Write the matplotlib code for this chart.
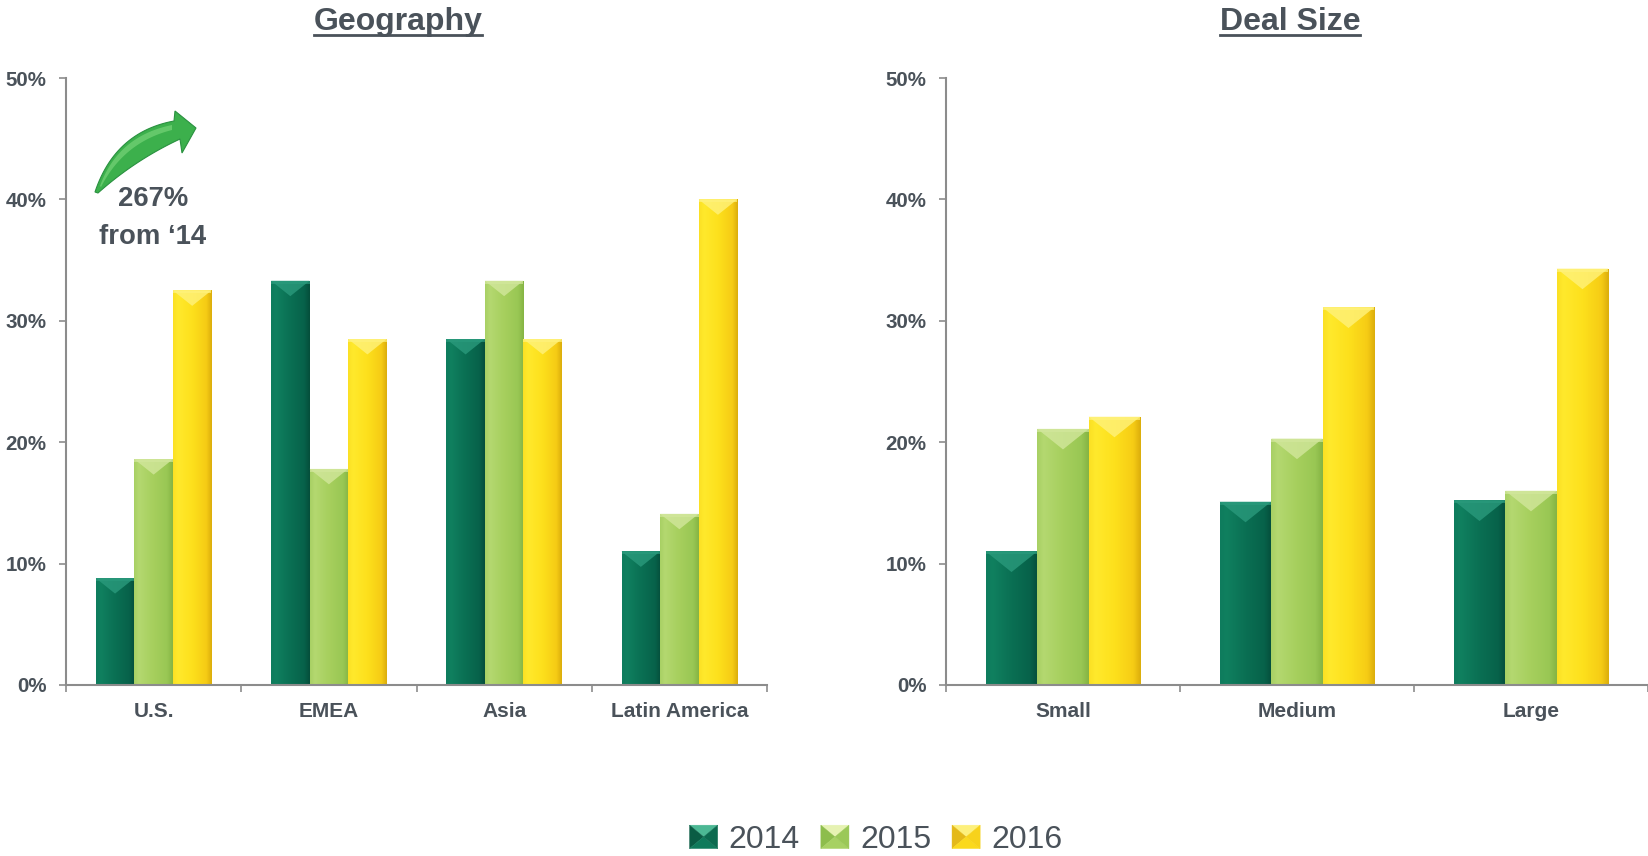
import numpy as np
import matplotlib
matplotlib.use("Agg")
import matplotlib.pyplot as plt
from matplotlib.patches import Polygon, Rectangle
from matplotlib.lines import Line2D
from matplotlib.legend_handler import HandlerBase
from matplotlib.ticker import PercentFormatter, FixedLocator
from matplotlib.colors import LinearSegmentedColormap

plt.rcParams['font.family'] = ['Liberation Sans', 'DejaVu Sans']

# ---- data -------------------------------------------------------------
years = ["2014", "2015", "2016"]

geo_categories = ["U.S.", "EMEA", "Asia", "Latin America"]
geo_2014 = [0.088, 0.333, 0.285, 0.110]
geo_2015 = [0.186, 0.178, 0.333, 0.141]
geo_2016 = [0.325, 0.285, 0.285, 0.400]

size_categories = ["Small", "Medium", "Large"]
size_2014 = [0.110, 0.151, 0.152]
size_2015 = [0.211, 0.203, 0.160]
size_2016 = [0.221, 0.311, 0.343]

y_ticks = [0.0, 0.1, 0.2, 0.3, 0.4, 0.5]
growth_note = "267%\nfrom \u201814"

# ---- styling ----------------------------------------------------------
TEXT = "#4a525a"
AXIS = "#8c8c8c"
W_PX, H_PX = 1648, 856

# horizontal shading across each bar (left highlight -> darker right edge)
shades = {
    "2014": ["#0e7c5d", "#10805f", "#0a6f53", "#07624a", "#054e3b"],
    "2015": ["#a8d064", "#b4d870", "#a6cf5d", "#99c754", "#85b444"],
    "2016": ["#fbe024", "#ffe92c", "#fde01c", "#f6cc15", "#dcae0c"],
}
bevel_top = {"2014": "#2a9a7c", "2015": "#d2e79c", "2016": "#fff27c"}
envelope = {  # top, left, bottom, right faces of the legend key
    "2014": ["#4cb894", "#0a5c44", "#0f7a5b", "#0c6a4f"],
    "2015": ["#e6f2b2", "#8dbd4c", "#a7d163", "#9bc858"],
    "2016": ["#fdf07c", "#e4b919", "#fbd91d", "#f7d21b"],
}


def fig_xy(px, py):
    """pixel position measured from the top-left corner -> figure fraction"""
    return px / W_PX, 1.0 - py / H_PX


fig = plt.figure(figsize=(W_PX / 100, H_PX / 100), dpi=100)
fig.patch.set_facecolor("white")

ax_geo = fig.add_axes([66 / W_PX, 171 / H_PX, (767 - 66) / W_PX, (685 - 78) / H_PX])
ax_size = fig.add_axes([946 / W_PX, 171 / H_PX, (1648 - 946) / W_PX, (685 - 78) / H_PX])


def shaded_bar(ax, rect, year):
    x, w, h = rect.get_x(), rect.get_width(), rect.get_height()
    cmap = LinearSegmentedColormap.from_list(
        "s" + year, list(zip([0.0, 0.12, 0.5, 0.86, 1.0], shades[year])))
    grad = np.linspace(0, 1, 64).reshape(1, -1)
    im = ax.imshow(grad, cmap=cmap, extent=(x, x + w, 0, h), aspect="auto",
                   interpolation="bicubic", zorder=2)
    im.set_clip_path(rect)
    # bevelled top face: a light wedge pointing down
    (px0, py_top), (px1, _) = ax.transData.transform([(x, h), (x + w, h)])
    depth = 0.40 * (px1 - px0)
    _, apex_y = ax.transData.inverted().transform((0, py_top - depth))
    tri = Polygon([(x, h), (x + w, h), (x + w * 0.5, apex_y)], closed=True,
                  facecolor=bevel_top[year], edgecolor="none", alpha=0.8, zorder=3)
    ax.add_patch(tri)
    _, strip_y = ax.transData.inverted().transform((0, py_top - 3))
    ax.add_patch(Rectangle((x, strip_y), w, h - strip_y, facecolor=bevel_top[year],
                           edgecolor="none", alpha=0.7, zorder=3))


def draw_panel(ax, categories, series):
    n = len(categories)
    xs = np.arange(n)
    bw = 0.22
    ax.set_xlim(-0.5, n - 0.5)
    ax.set_ylim(0, 0.5)
    for i, (year, vals) in enumerate(zip(years, series)):
        bars = ax.bar(xs + (i - 1) * bw, vals, width=bw, color="none",
                      edgecolor="none", zorder=2)
        for rect in bars:
            shaded_bar(ax, rect, year)
    for side in ("top", "right"):
        ax.spines[side].set_visible(False)
    for side in ("left", "bottom"):
        ax.spines[side].set_color(AXIS)
        ax.spines[side].set_linewidth(1.5)
    ax.yaxis.set_major_locator(FixedLocator(y_ticks))
    ax.yaxis.set_major_formatter(PercentFormatter(1.0, decimals=0))
    ax.tick_params(axis="y", length=5, width=1.2, color=AXIS, pad=9,
                   labelsize=14.8, labelcolor=TEXT)
    for lab in ax.get_yticklabels():
        lab.set_fontweight("bold")
    ax.xaxis.set_major_locator(FixedLocator(np.arange(n + 1) - 0.5))
    ax.xaxis.set_major_formatter(plt.NullFormatter())
    ax.xaxis.set_minor_locator(FixedLocator(xs))
    ax.set_xticks(xs, categories, minor=True)
    ax.tick_params(axis="x", which="major", length=5, width=1.2, color=AXIS)
    ax.tick_params(axis="x", which="minor", length=0, pad=12,
                   labelsize=15, labelcolor=TEXT)
    for lab in ax.get_xticklabels(minor=True):
        lab.set_fontweight("bold")
    ax.patch.set_alpha(0)


draw_panel(ax_geo, geo_categories, [geo_2014, geo_2015, geo_2016])
draw_panel(ax_size, size_categories, [size_2014, size_2015, size_2016])

# ---- panel titles, underlined -------------------------------------------
titles = []
for label, cx in (("Geography", 398), ("Deal Size", 1290)):
    t = fig.text(*fig_xy(cx, 22), label, ha="center", va="center",
                 fontsize=23, fontweight="bold", color=TEXT)
    titles.append(t)

fig.canvas.draw()
renderer = fig.canvas.get_renderer()
for t in titles:
    bb = t.get_window_extent(renderer)
    uy = 1.0 - 35 / H_PX
    fig.add_artist(Line2D([bb.x0 / W_PX, bb.x1 / W_PX], [uy, uy],
                          transform=fig.transFigure, color=TEXT, linewidth=2.0))

# ---- growth call-out: curved green arrow + note ------------------------
def qbez(p0, p1, p2, n=30):
    t = np.linspace(0, 1, n)[:, None]
    p0, p1, p2 = map(np.asarray, (p0, p1, p2))
    return (1 - t) ** 2 * p0 + 2 * (1 - t) * t * p1 + t ** 2 * p2

upper = qbez((95, 192), (115, 132), (174, 121))
lower = qbez((180, 139), (135, 160), (98, 193))
head = np.array([(174, 121), (175, 111), (196, 128), (182, 153), (180, 139)])
outline = np.vstack([upper, head, lower])
arrow_pts = np.column_stack([outline[:, 0] / W_PX, 1 - outline[:, 1] / H_PX])
fig.add_artist(Polygon(arrow_pts, closed=True, transform=fig.transFigure,
                       facecolor="#3cb04c", edgecolor="#2a9140", linewidth=0.8))
hl_upper = qbez((100, 186), (118, 136), (172, 125))
hl_lower = qbez((172, 130), (124, 142), (101, 187))
hl = np.vstack([hl_upper, hl_lower])
fig.add_artist(Polygon(np.column_stack([hl[:, 0] / W_PX, 1 - hl[:, 1] / H_PX]),
                       closed=True, transform=fig.transFigure,
                       facecolor="#6fcf72", edgecolor="none", alpha=0.8))

fig.text(*fig_xy(153, 218), growth_note, ha="center", va="center",
         fontsize=19.8, fontweight="bold", color=TEXT, linespacing=1.62)

# ---- legend with envelope-style keys ------------------------------------
class EnvelopeKey(HandlerBase):
    def __init__(self, faces):
        super().__init__()
        self.faces = faces

    def create_artists(self, legend, orig_handle, xdescent, ydescent,
                       width, height, fontsize, trans):
        x0, y0 = -xdescent, -ydescent
        x1, y1 = x0 + width, y0 + height
        cx, cy = (x0 + x1) / 2, (y0 + y1) / 2
        top, left, bottom, right = self.faces
        tris = [
            ([(x0, y1), (x1, y1), (cx, cy)], top),
            ([(x0, y0), (x0, y1), (cx, cy)], left),
            ([(x0, y0), (x1, y0), (cx, cy)], bottom),
            ([(x1, y0), (x1, y1), (cx, cy)], right),
        ]
        arts = []
        for pts, c in tris:
            p = Polygon(pts, closed=True, facecolor=c, edgecolor=c,
                        linewidth=0.3, transform=trans)
            arts.append(p)
        return arts

handles = [Rectangle((0, 0), 1, 1, label=y) for y in years]
leg = fig.legend(handles=handles, labels=years, loc="center",
                 bbox_to_anchor=fig_xy(876, 840), ncol=3, frameon=False,
                 fontsize=23, handlelength=0.88, handleheight=0.75,
                 handletextpad=0.35, columnspacing=0.65,
                 handler_map={h: EnvelopeKey(envelope[y]) for h, y in zip(handles, years)})
for txt in leg.get_texts():
    txt.set_color(TEXT)

fig.savefig("out.png", dpi=100, facecolor="white")
